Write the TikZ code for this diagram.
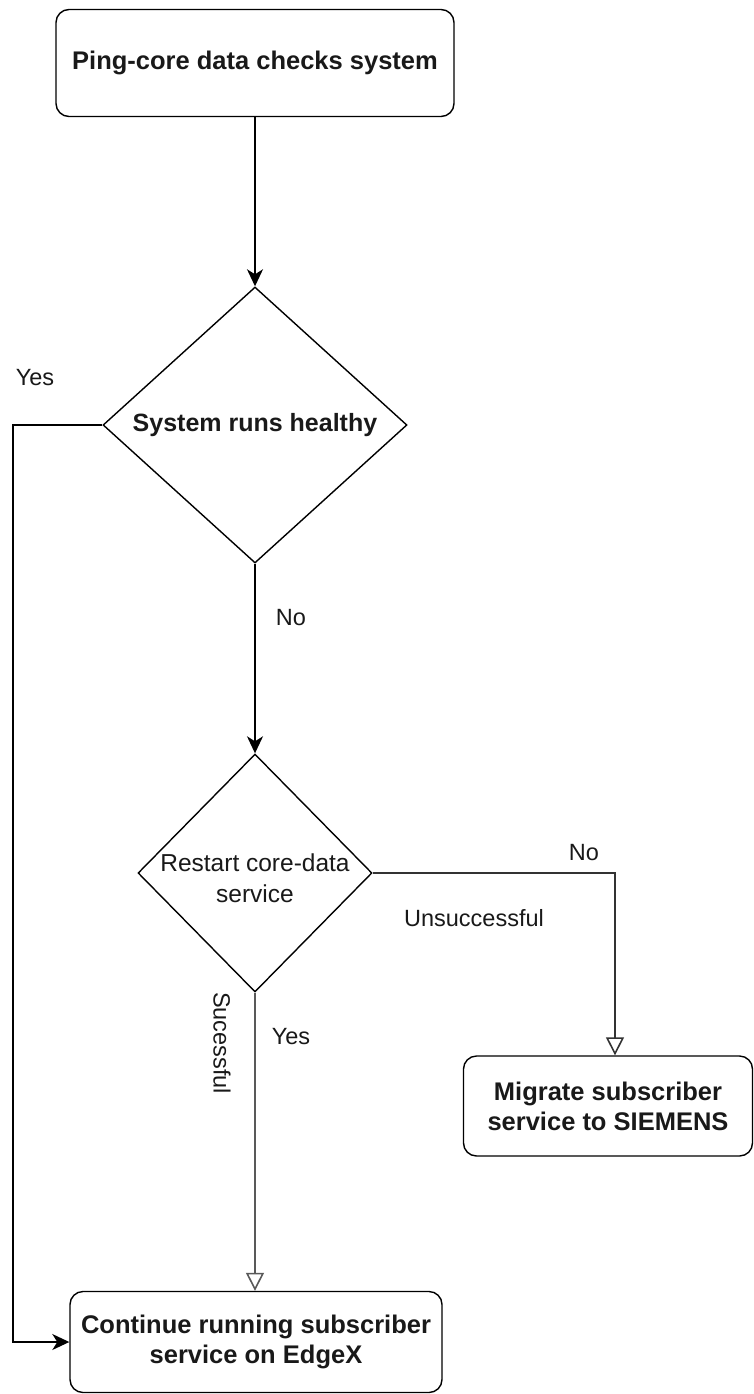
\documentclass[tikz,border=0pt]{standalone}
\usepackage{fontspec}
\setmainfont{Liberation Sans}
\usetikzlibrary{arrows.meta,shapes.geometric}

\begin{document}
\begin{tikzpicture}[x=1pt,y=-1pt,
  every node/.style={text=black!90},
  procbox/.style={draw, line width=1.4pt, rounded corners=13pt, align=center,
    inner sep=0pt, font=\fontsize{25.5}{30}\selectfont\bfseries},
  decision/.style={draw, diamond, line width=1.4pt, inner sep=0pt},
  dtext/.style={align=center, inner sep=0pt},
  lbl/.style={inner sep=0pt, font=\fontsize{23.5}{27}\selectfont},
  flow/.style={line width=1.4pt, -{Stealth[length=17pt,width=16pt,inset=5pt]}},
  openflow/.style={line width=1.6pt, -{Triangle[open,length=18pt,width=18pt,fill=white]}}
]
\useasboundingbox (0,0) rectangle (753,1394);

% process boxes
\node[procbox, minimum width=398pt, minimum height=107pt] (ping) at (255,63)
  {Ping-core data checks system};
\node[procbox, minimum width=372pt, minimum height=101pt] (cont) at (256,1342)
  {Continue running subscriber\\service on EdgeX};
\node[procbox, minimum width=289pt, minimum height=100pt] (mig) at (608,1106)
  {Migrate subscriber\\service to SIEMENS};

% decisions
\node[decision, minimum width=304pt, minimum height=276pt] (health) at (255,425) {};
\node[dtext, font=\fontsize{25}{30}\selectfont\bfseries] (healtht) at (health) {System runs healthy};
\node[decision, minimum width=234pt, minimum height=238pt] (restart) at (255,873) {};
\node[dtext, font=\fontsize{24.5}{31}\selectfont] (restartt) at (255,878) {Restart core-data\\service};

% connectors
\coordinate (yesbend) at (13,425);
\draw[flow] (ping) -- (health);
\draw[flow] (health.west) -- (yesbend) |- (cont.west);
\draw[flow] (health.south) -- (restart.north);
\draw[openflow, draw=black!80] (restart.east) -| ([xshift=7pt]mig.north);
\draw[openflow, draw=black!65] (restart.south) -- (cont.north -| restart.south);

% edge labels
\node[lbl] (yes1) at (35,378) {Yes};
\node[lbl] (no1) at (291,618) {No};
\node[lbl] (no2) at (584,853) {No};
\node[lbl] (unsucc) at (474,918) {Unsuccessful};
\node[lbl] (yes2) at (291,1037) {Yes};
\node[lbl, rotate=-90] (succ) at (222,1043) {Sucessful};
\end{tikzpicture}
\end{document}
